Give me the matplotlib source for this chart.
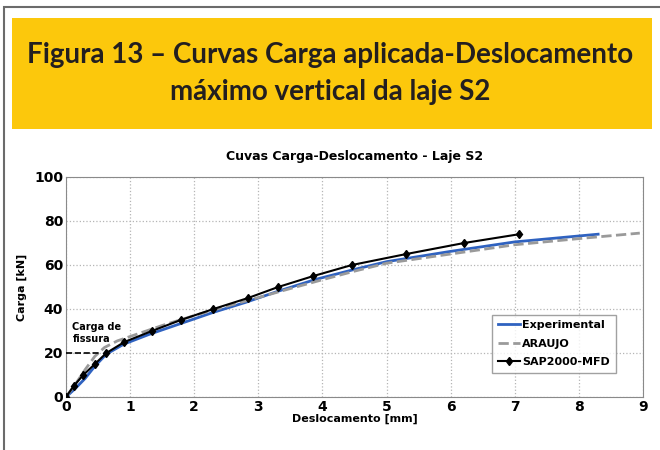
import matplotlib.pyplot as plt
from matplotlib.patches import Rectangle

# curve data
exp_x = [0, 0.15, 0.3, 0.45, 0.63, 0.9, 1.3, 1.8, 2.3, 2.8, 3.3, 3.9, 4.5, 5.0, 6.0, 7.0, 8.0, 8.3]
exp_y = [0, 4, 8.5, 14, 19.5, 24, 28.5, 33.5, 38.5, 43, 48, 53.5, 58, 61.5, 66.2, 70.5, 73.2, 74]

arj_x = [0, 0.15, 0.3, 0.45, 0.6, 0.8, 1.0, 1.5, 2.0, 2.5, 3.0, 3.5, 4.0, 4.5, 5.0, 6.0, 7.0, 8.0, 8.95]
arj_y = [0, 6, 12.5, 18.5, 22.5, 25.5, 27.5, 32.5, 37, 41.2, 45.2, 49.3, 53.3, 57.2, 60.8, 65, 69.2, 72, 74.5]

sap_x = [0, 0.12, 0.27, 0.45, 0.63, 0.91, 1.34, 1.79, 2.30, 2.84, 3.31, 3.86, 4.46, 5.31, 6.21, 7.07]
sap_y = [0, 5, 10, 15, 20, 25, 30, 35, 40, 45, 50, 55, 60, 65, 70, 74]

crack_x = [0, 0.55]
crack_y = [20, 20]

x_ticks = [0, 1, 2, 3, 4, 5, 6, 7, 8, 9]
y_ticks = [0, 20, 40, 60, 80, 100]

plt.rcParams["font.family"] = ["DejaVu Sans"]

fig = plt.figure(figsize=(6.6, 4.5), dpi=100)
W, H = 660, 450

# outer frame (left and top edges visible) and yellow header
fig.patches.append(Rectangle((4 / W, -0.1), 1.2, 1 - 7 / H + 0.1, transform=fig.transFigure,
                             fill=False, edgecolor="#6b6b6b", linewidth=1.5))
fig.patches.append(Rectangle((12 / W, 1 - 129 / H), 640 / W, 111 / H, transform=fig.transFigure,
                             facecolor="#fcc80c", edgecolor="none"))
fig.text(0.5, 1 - 55 / H, "Figura 13 – Curvas Carga aplicada-Deslocamento", ha="center", va="center",
         fontsize=20, family="Lato", fontweight="bold", color="#231f20")
fig.text(0.5, 1 - 92 / H, "máximo vertical da laje S2", ha="center", va="center",
         fontsize=20, family="Lato", fontweight="bold", color="#231f20")

ax = fig.add_axes([66 / W, 1 - 397 / H, (643 - 66) / W, (397 - 177) / H])
ax.plot(arj_x, arj_y, color="#9a9a9a", linestyle="--", linewidth=2, label="ARAUJO", zorder=3)
ax.plot(exp_x, exp_y, color="#2f62c0", linewidth=2, label="Experimental", zorder=2)
ax.plot(sap_x, sap_y, color="black", linewidth=1.5, marker="d", markersize=4.5, label="SAP2000-MFD", zorder=4)
ax.plot(crack_x, crack_y, color="black", linestyle="--", linewidth=1.2, zorder=4)

ax.set_xlim(0, 9)
ax.set_ylim(0, 100)
ax.set_xticks(x_ticks)
ax.set_yticks(y_ticks)
ax.grid(True, color="#b5b5b5", linestyle=":", linewidth=0.9)
ax.tick_params(length=0, labelsize=10, pad=2)
for lab in ax.get_xticklabels() + ax.get_yticklabels():
    lab.set_fontweight("bold")
for s in ax.spines.values():
    s.set_color("#8a8a8a")

ax.set_title("Cuvas Carga-Deslocamento - Laje S2", fontsize=9, fontweight="bold", pad=12)
ax.set_xlabel("Deslocamento [mm]", fontsize=8, fontweight="bold", labelpad=0)
ax.set_ylabel("Carga [kN]", fontsize=8, fontweight="bold", labelpad=5)
ax.text(0.1, 29, "Carga de\nfissura", fontsize=7, fontweight="bold", va="center", ha="left")

handles, labels = ax.get_legend_handles_labels()
order = [1, 0, 2]
leg = ax.legend([handles[i] for i in order], [labels[i] for i in order], loc="lower right",
                bbox_to_anchor=(0.962, 0.086), prop={"weight": "bold", "size": 8},
                frameon=True, fancybox=False, handlelength=2, handletextpad=0.2,
                borderpad=0.5, labelspacing=0.75)
leg.get_frame().set_edgecolor("#8a8a8a")
leg.get_frame().set_linewidth(1)

fig.savefig("out.png", dpi=100)
